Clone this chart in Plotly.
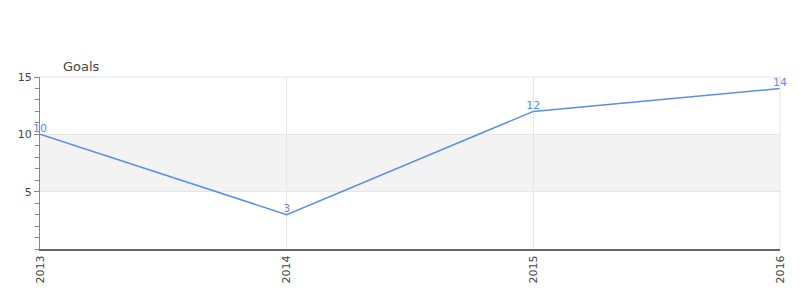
import plotly.graph_objects as go

years = ["2013", "2014", "2015", "2016"]
goals = [10, 3, 12, 14]
line_color = "#5b8ee6"

fig = go.Figure()
fig.add_trace(go.Scatter(
    x=years, y=goals, mode="lines+text", text=[str(v) for v in goals],
    textposition="top center", textfont=dict(color=line_color, size=11, family="DejaVu Sans"),
    line=dict(color=line_color, width=1.5), cliponaxis=False, showlegend=False))

fig.add_hrect(y0=5, y1=10, fillcolor="#f3f3f3", line_width=0, layer="below")

fig.update_layout(
    width=800, height=300, margin=dict(l=40, r=20, t=77, b=51),
    paper_bgcolor="white", plot_bgcolor="white",
    font=dict(family="DejaVu Sans", size=11, color="#444"),
)
fig.add_annotation(text="Goals", xref="paper", yref="paper", x=(61-40)/740, y=1.0, yanchor="bottom",
                   xanchor="left", showarrow=False, font=dict(size=13, color="#444"), yshift=1)
fig.update_xaxes(type="category", range=[0, 3], showgrid=True, gridcolor="#e6e6e6",
                 tickangle=-90, showline=True, linecolor="#666", linewidth=2,
                 ticks="", tickfont=dict(size=11, color="#444"), mirror=False)
fig.update_yaxes(range=[0, 15], tickvals=[5, 10, 15], showgrid=True, gridcolor="#e6e6e6",
                 showline=True, linecolor="#888", linewidth=1, ticks="outside", ticklen=5,
                 tickcolor="#888", minor=dict(dtick=1, ticks="outside", ticklen=4, tickcolor="#888", showgrid=False),
                 zeroline=True, zerolinecolor="red", zerolinewidth=1,
                 tickfont=dict(size=11, color="#444"))
fig.add_shape(type="line", xref="paper", yref="paper", x0=1, x1=1, y0=0, y1=1,
              line=dict(color="#e6e6e6", width=1))
fig.add_shape(type="line", xref="paper", yref="paper", x0=0, x1=1, y0=1, y1=1,
              line=dict(color="#e6e6e6", width=1))
fig.write_html("out.html")
